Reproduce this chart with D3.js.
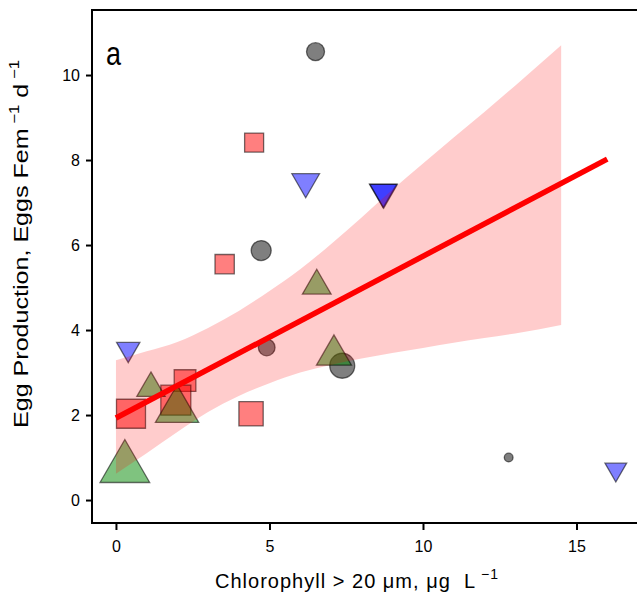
<!DOCTYPE html>
<html>
<head>
<meta charset="utf-8">
<script src="https://cdn.jsdelivr.net/npm/d3@7"></script>
<style>
  body { margin: 0; background: #fff; }
  text { font-family: "Liberation Sans", Arial, sans-serif; fill: #000; }
</style>
</head>
<body>
<script>
// values
// gray circles
const grayX = [6.5, 4.73, 4.91, 7.37, 12.79]
const grayY = [10.55, 5.87, 3.59, 3.16, 1.0]
const grayW = [1.8, 2.0, 1.67, 2.5, 0.87]
// red squares
const redX = [4.5, 3.54, 2.25, 1.95, 0.49, 4.4]
const redY = [8.41, 5.55, 2.81, 2.35, 2.03, 2.03]
const redW = [1.9, 1.93, 2.17, 3.0, 2.9, 2.43]
// blue down triangles
const blueX = [6.18, 8.7, 8.72, 0.4, 16.28]
const blueY = [7.49, 7.25, 7.24, 3.55, 0.72]
const blueW = [2.77, 2.73, 2.73, 2.33, 2.17]
// green up triangles
const greenX = [6.54, 7.1, 1.14, 1.99, 0.29]
const greenY = [5.04, 3.41, 2.63, 2.12, 0.75]
const greenW = [2.87, 3.5, 2.83, 4.33, 4.97]

// fitted line and its band
const fitX = [0, 16]
const fitY = [1.93, 8.02]
const bandX = [0, 1, 2, 3, 4, 5, 6, 7, 8, 9, 10, 11, 12, 13, 14.5]
const bandUpper = [3.29, 3.5, 3.72, 4.05, 4.45, 4.92, 5.43, 6.02, 6.65, 7.3, 7.92, 8.53, 9.13, 9.75, 10.7]
const bandLower = [0.62, 1.1, 1.6, 2.07, 2.45, 2.75, 3.0, 3.18, 3.33, 3.46, 3.58, 3.7, 3.81, 3.92, 4.12]

const xTicks = [0, 5, 10, 15]
const yTicks = [0, 2, 4, 6, 8, 10]

const w = 637
const h = 596

const svg = d3.select('body')
    .append('svg')
    .attr('width', w)
    .attr('height', h)

const xScale = d3.scaleLinear().domain([-0.78, 16.97]).range([92, 637])
const yScale = d3.scaleLinear().domain([-0.54, 11.53]).range([523, 10])
// marker weight -> marker width in px
const sizeScale = d3.scaleLinear().domain([0, 5]).range([0, 50])

const groups = [
    { xs: grayX, ys: grayY, ws: grayW, type: d3.symbolCircle, k: Math.PI / 4, rot: 0, fill: 'rgba(0,0,0,0.5)' },
    { xs: redX, ys: redY, ws: redW, type: d3.symbolSquare, k: 1, rot: 0, fill: 'rgba(255,0,0,0.5)' },
    { xs: blueX, ys: blueY, ws: blueW, type: d3.symbolTriangle, k: Math.sqrt(3) / 4, rot: 180, fill: 'rgba(0,0,255,0.5)' },
    { xs: greenX, ys: greenY, ws: greenW, type: d3.symbolTriangle, k: Math.sqrt(3) / 4, rot: 0, fill: 'rgba(0,135,0,0.5)' }
]

// points
groups.forEach(g => {
    const pts = g.xs.map((x, i) => ({ x: x, y: g.ys[i], wd: g.ws[i] }))
    svg.append('g').selectAll('path')
        .data(pts)
        .enter()
        .append('path')
        .attr('d', d => d3.symbol().type(g.type).size(g.k * Math.pow(sizeScale(d.wd), 2))())
        .attr('transform', d => `translate(${xScale(d.x)},${yScale(d.y)}) rotate(${g.rot})`)
        .attr('fill', g.fill)
        .attr('stroke', 'rgba(0,0,0,0.55)')
        .attr('stroke-width', 1.3)
})

// confidence band on top of the points
const band = bandX.map((x, i) => ({ x: x, lo: bandLower[i], hi: bandUpper[i] }))
svg.append('path')
    .datum(band)
    .attr('fill', 'rgba(255,0,0,0.2)')
    .attr('d', d3.area()
        .x(d => xScale(d.x))
        .y0(d => yScale(d.lo))
        .y1(d => yScale(d.hi))
        .curve(d3.curveMonotoneX))

// fitted line
svg.append('path')
    .datum(fitX.map((x, i) => [x, fitY[i]]))
    .attr('fill', 'none')
    .attr('stroke', '#ff0000')
    .attr('stroke-width', 5.5)
    .attr('d', d3.line().x(d => xScale(d[0])).y(d => yScale(d[1])))

// frame
svg.append('rect')
    .attr('x', 92)
    .attr('y', 10)
    .attr('width', 600)
    .attr('height', 513)
    .attr('fill', 'none')
    .attr('stroke', '#000')
    .attr('stroke-width', 2)

// axes
const yAxis = d3.axisLeft(yScale).tickValues(yTicks).tickSize(6).tickPadding(6)
const yg = svg.append('g').attr('transform', 'translate(92,0)').call(yAxis)
const xAxis = d3.axisBottom(xScale).tickValues(xTicks).tickSize(7).tickPadding(11)
const xg = svg.append('g').attr('transform', 'translate(0,523)').call(xAxis)
;[xg, yg].forEach(g => {
    g.select('.domain').remove()
    g.selectAll('line').attr('stroke', '#000').attr('stroke-width', 2)
    g.selectAll('text').attr('font-size', 16).attr('font-family', '"Liberation Sans", Arial, sans-serif')
})

// panel letter
svg.append('text')
    .attr('transform', 'translate(106,65) scale(1,1.2)')
    .attr('font-size', 27)
    .text('a')

// x title
const xt = svg.append('text')
    .attr('x', 215)
    .attr('y', 588)
    .attr('font-size', 20)
    .attr('textLength', 283)
    .attr('lengthAdjust', 'spacing')
    .style('white-space', 'pre')
xt.append('tspan').text('Chlorophyll > 20 \u03bcm, \u03bcg  L')
xt.append('tspan').attr('dy', -9).attr('font-size', 14).text(' \u22121')

// y title
const yt = svg.append('text')
    .attr('transform', 'translate(28,244) rotate(-90)')
    .attr('text-anchor', 'middle')
    .attr('font-size', 21)
    .attr('textLength', 368)
    .attr('lengthAdjust', 'spacingAndGlyphs')
    .style('white-space', 'pre')
yt.append('tspan').text('Egg Production, Eggs Fem')
yt.append('tspan').attr('dy', -9).attr('font-size', 14).text(' \u22121')
yt.append('tspan').attr('dy', 9).text(' d')
yt.append('tspan').attr('dy', -9).attr('font-size', 14).text(' \u22121')
</script>
</body>
</html>
